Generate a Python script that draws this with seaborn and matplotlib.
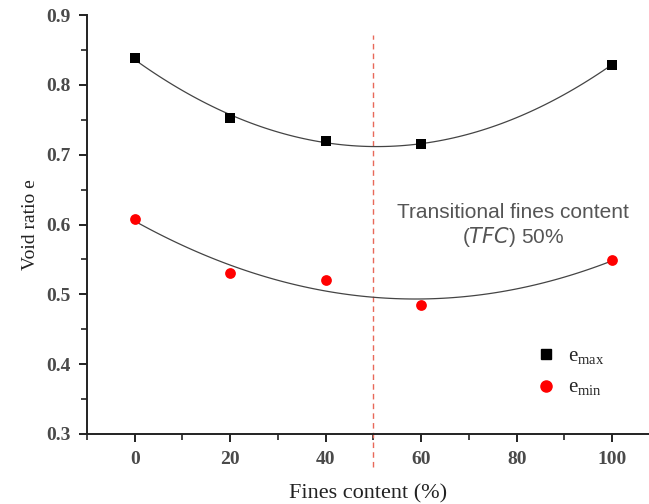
import numpy as np
import pandas as pd
import matplotlib
matplotlib.use("Agg")
import matplotlib.pyplot as plt
import seaborn as sns
from matplotlib.ticker import MultipleLocator
from matplotlib.lines import Line2D

# 數據
fines = [0, 20, 40, 60, 100]
e_max = [0.838, 0.753, 0.720, 0.716, 0.829]
e_min = [0.608, 0.530, 0.521, 0.485, 0.549]
tfc = 50

sns.set_theme(style="ticks")
plt.rcParams['font.family'] = ['Liberation Serif', 'DejaVu Serif']
plt.rcParams['mathtext.fontset'] = 'custom'
plt.rcParams['mathtext.rm'] = 'Liberation Serif'

df = pd.DataFrame({'fines': fines, 'e_max': e_max, 'e_min': e_min})

fig = plt.figure(figsize=(6.49, 5.04), dpi=100)
ax = fig.add_axes([0.134, 0.139, 0.866, 0.831])

line_kw = dict(color='#444444', lw=0.9, zorder=2)
sns.regplot(data=df, x='fines', y='e_max', order=2, ci=None, ax=ax, marker='s',
            scatter_kws=dict(s=55, color='black', alpha=1, zorder=3, linewidths=0),
            line_kws=line_kw)
sns.regplot(data=df, x='fines', y='e_min', order=2, ci=None, ax=ax, marker='o',
            scatter_kws=dict(s=60, color='#ff0000', alpha=1, zorder=3, linewidths=0),
            line_kws=line_kw)

# 過渡細粒含量
ax.axvline(tfc, ymin=-0.079, ymax=0.952, color='#e8695a', lw=1.0,
           ls=(0, (4, 3)), clip_on=False, zorder=1)
ax.text(79.2, 0.598, 'Transitional fines content\n($\\it{TFC}$) 50%',
        ha='center', va='center', fontsize=15, color='#555555',
        family=['Liberation Sans', 'DejaVu Sans'], linespacing=1.15)

ax.set_xlim(-10, 107.7)
ax.set_ylim(0.3, 0.9)
ax.xaxis.set_major_locator(MultipleLocator(20))
ax.xaxis.set_minor_locator(MultipleLocator(10))
ax.yaxis.set_major_locator(MultipleLocator(0.1))
ax.yaxis.set_minor_locator(MultipleLocator(0.05))
ax.tick_params(which='major', direction='out', length=6, width=1.4, pad=6,
               labelsize=14, labelcolor='#4a4a4a', color='#222222')
ax.tick_params(which='minor', direction='out', length=4, width=1.2, color='#222222')
for lab in ax.get_xticklabels() + ax.get_yticklabels():
    lab.set_fontweight('bold')
ax.set_xlabel('Fines content (%)', fontsize=16, color='#222222', labelpad=12)
ax.set_ylabel('Void ratio e', fontsize=14, color='#222222', labelpad=5)
for s in ['top', 'right']:
    ax.spines[s].set_visible(False)
for s in ['left', 'bottom']:
    ax.spines[s].set_linewidth(1.4)
    ax.spines[s].set_color('#222222')

handles = [Line2D([], [], marker='s', color='black', ls='none', markersize=7),
           Line2D([], [], marker='o', color='#ff0000', ls='none', markersize=8)]
ax.legend(handles, [r'e$_{\mathrm{max}}$', r'e$_{\mathrm{min}}$'],
          loc='lower right', bbox_to_anchor=(0.955, 0.04), frameon=False,
          fontsize=15, handletextpad=0.6, labelspacing=0.55, handlelength=1.0)

fig.savefig('out.png', dpi=100, facecolor='white')
